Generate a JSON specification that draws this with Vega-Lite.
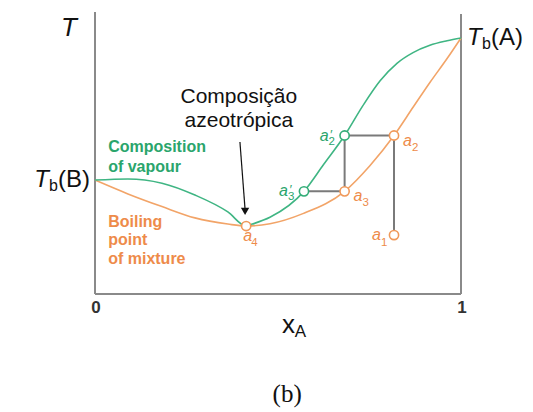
{
  "$schema": "https://vega.github.io/schema/vega-lite/v6.json",
  "width": 366,
  "height": 282,
  "autosize": {"type": "none"},
  "padding": {"left": 95, "top": 12, "right": 72, "bottom": 118},
  "background": "white",
  "config": {"view": {"stroke": null}, "text": {"font": "Liberation Sans"}},
  "datasets": {
    "frame": [
      {"x": 0, "x2": 0, "y": 0, "y2": 1},
      {"x": 1, "x2": 1, "y": 0, "y2": 0.993},
      {"x": 0, "x2": 1, "y": 0, "y2": 0}
    ],
    "ticklabels": [
      {"text": "0", "x": 0, "y": 0},
      {"text": "1", "x": 1, "y": 0}
    ],
    "ties": [
      {"x": 0.682, "x2": 0.817, "y": 0.562, "y2": 0.562},
      {"x": 0.682, "x2": 0.682, "y": 0.364, "y2": 0.562},
      {"x": 0.571, "x2": 0.682, "y": 0.364, "y2": 0.364},
      {"x": 0.817, "x2": 0.817, "y": 0.209, "y2": 0.562}
    ],
    "curves": [
      {"series": "vapour", "x": 0, "y": 0.404},
      {"series": "vapour", "x": 0.09, "y": 0.408},
      {"series": "vapour", "x": 0.183, "y": 0.393},
      {"series": "vapour", "x": 0.273, "y": 0.351},
      {"series": "vapour", "x": 0.363, "y": 0.291},
      {"series": "vapour", "x": 0.413, "y": 0.241},
      {"series": "vapour", "x": 0.43, "y": 0.248},
      {"series": "vapour", "x": 0.478, "y": 0.272},
      {"series": "vapour", "x": 0.571, "y": 0.364},
      {"series": "vapour", "x": 0.625, "y": 0.46},
      {"series": "vapour", "x": 0.682, "y": 0.562},
      {"series": "vapour", "x": 0.732, "y": 0.668},
      {"series": "vapour", "x": 0.779, "y": 0.756},
      {"series": "vapour", "x": 0.825, "y": 0.818},
      {"series": "vapour", "x": 0.869, "y": 0.856},
      {"series": "vapour", "x": 0.915, "y": 0.882},
      {"series": "vapour", "x": 0.962, "y": 0.898},
      {"series": "vapour", "x": 1, "y": 0.908},
      {"series": "liquid", "x": 0, "y": 0.404},
      {"series": "liquid", "x": 0.09, "y": 0.355},
      {"series": "liquid", "x": 0.183, "y": 0.31},
      {"series": "liquid", "x": 0.273, "y": 0.27},
      {"series": "liquid", "x": 0.363, "y": 0.248},
      {"series": "liquid", "x": 0.413, "y": 0.241},
      {"series": "liquid", "x": 0.478, "y": 0.249},
      {"series": "liquid", "x": 0.568, "y": 0.285},
      {"series": "liquid", "x": 0.682, "y": 0.364},
      {"series": "liquid", "x": 0.751, "y": 0.455},
      {"series": "liquid", "x": 0.817, "y": 0.562},
      {"series": "liquid", "x": 0.869, "y": 0.662},
      {"series": "liquid", "x": 0.915, "y": 0.75},
      {"series": "liquid", "x": 0.962, "y": 0.835},
      {"series": "liquid", "x": 1, "y": 0.908}
    ],
    "points": [
      {"phase": "vapour", "name": "a2'", "x": 0.682, "y": 0.562},
      {"phase": "vapour", "name": "a3'", "x": 0.571, "y": 0.364},
      {"phase": "liquid", "name": "a4", "x": 0.413, "y": 0.241},
      {"phase": "liquid", "name": "a3", "x": 0.682, "y": 0.364},
      {"phase": "liquid", "name": "a2", "x": 0.817, "y": 0.562},
      {"phase": "liquid", "name": "a1", "x": 0.817, "y": 0.209}
    ],
    "labels": [
      {"group": "greenRight", "part": "main", "text": "a", "x": 0.682, "y": 0.562},
      {"group": "greenRight", "part": "prime", "text": "′", "x": 0.682, "y": 0.562},
      {"group": "greenRight", "part": "sub", "text": "2", "x": 0.682, "y": 0.562},
      {"group": "greenRight", "part": "main", "text": "a", "x": 0.571, "y": 0.364},
      {"group": "greenRight", "part": "prime", "text": "′", "x": 0.571, "y": 0.364},
      {"group": "greenRight", "part": "sub", "text": "3", "x": 0.571, "y": 0.364},
      {"group": "orangeLeft", "part": "main", "text": "a", "x": 0.817, "y": 0.562},
      {"group": "orangeLeft", "part": "sub", "text": "2", "x": 0.817, "y": 0.562},
      {"group": "orangeLeft", "part": "main", "text": "a", "x": 0.682, "y": 0.364},
      {"group": "orangeLeft", "part": "sub", "text": "3", "x": 0.682, "y": 0.364},
      {"group": "orangeRight", "part": "main", "text": "a", "x": 0.817, "y": 0.209},
      {"group": "orangeRight", "part": "sub", "text": "1", "x": 0.817, "y": 0.209},
      {"group": "orangeCenter", "part": "main", "text": "a", "x": 0.413, "y": 0.241},
      {"group": "orangeCenter", "part": "sub", "text": "4", "x": 0.413, "y": 0.241},
      {"group": "greenNote", "part": "note", "text": "Composition", "x": 0.036, "y": 0.521},
      {"group": "greenNote", "part": "note", "text": "of vapour", "x": 0.036, "y": 0.45},
      {"group": "orangeNote", "part": "note", "text": "Boiling", "x": 0.036, "y": 0.255},
      {"group": "orangeNote", "part": "note", "text": "point", "x": 0.036, "y": 0.191},
      {"group": "orangeNote", "part": "note", "text": "of mixture", "x": 0.036, "y": 0.124},
      {"group": "blackNote", "part": "note", "text": "Composição", "x": 0.393, "y": 0.699},
      {"group": "blackNote", "part": "note", "text": "azeotrópica", "x": 0.393, "y": 0.612}
    ],
    "arrow": [
      {"x": 0.396, "x2": 0.41, "y": 0.539, "y2": 0.3}
    ],
    "arrowhead": [
      {"x": 0.41, "y": 0.293}
    ]
  },
  "encoding": {
    "x": {
      "field": "x",
      "type": "quantitative",
      "scale": {"domain": [0, 1], "nice": false, "zero": false},
      "axis": null
    },
    "y": {
      "field": "y",
      "type": "quantitative",
      "scale": {"domain": [0, 1], "nice": false, "zero": false},
      "axis": null
    }
  },
  "layer": [
    {
      "data": {"name": "frame"},
      "mark": {"type": "rule", "color": "#8a8a8a", "strokeWidth": 2},
      "encoding": {"x2": {"field": "x2"}, "y2": {"field": "y2"}}
    },
    {
      "data": {"name": "ticklabels"},
      "mark": {"type": "text", "align": "center", "baseline": "middle", "dx": 1, "dy": 14, "fontSize": 17, "fontWeight": "bold", "color": "#333333"},
      "encoding": {"text": {"field": "text"}}
    },
    {
      "data": {"name": "ties"},
      "mark": {"type": "rule", "color": "#7a7a7a", "strokeWidth": 2},
      "encoding": {"x2": {"field": "x2"}, "y2": {"field": "y2"}}
    },
    {
      "data": {"name": "curves"},
      "transform": [{"filter": "datum.series === 'liquid'"}],
      "mark": {"type": "line", "color": "#f2a468", "strokeWidth": 1.6, "interpolate": "monotone"},
      "encoding": {}
    },
    {
      "data": {"name": "curves"},
      "transform": [{"filter": "datum.series === 'vapour'"}],
      "mark": {"type": "line", "color": "#3fb583", "strokeWidth": 1.6, "interpolate": "monotone"},
      "encoding": {}
    },
    {
      "data": {"name": "arrow"},
      "mark": {"type": "rule", "color": "#111111", "strokeWidth": 1.2},
      "encoding": {"x2": {"field": "x2"}, "y2": {"field": "y2"}}
    },
    {
      "data": {"name": "arrowhead"},
      "mark": {"type": "point", "shape": "triangle-down", "filled": true, "color": "#111111", "size": 70, "opacity": 1},
      "encoding": {}
    },
    {
      "data": {"name": "points"},
      "transform": [{"filter": "datum.phase === 'liquid'"}],
      "mark": {"type": "point", "shape": "circle", "filled": false, "fill": "white", "fillOpacity": 1, "stroke": "#f0995a", "strokeWidth": 1.6, "size": 85, "opacity": 1},
      "encoding": {}
    },
    {
      "data": {"name": "points"},
      "transform": [{"filter": "datum.phase === 'vapour'"}],
      "mark": {"type": "point", "shape": "circle", "filled": false, "fill": "white", "fillOpacity": 1, "stroke": "#33ad78", "strokeWidth": 1.6, "size": 85, "opacity": 1},
      "encoding": {}
    },
    {
      "data": {"name": "labels"},
      "transform": [{"filter": "datum.group === 'greenRight' && datum.part === 'main'"}],
      "mark": {"type": "text", "align": "right", "baseline": "alphabetic", "dx": -16, "dy": 5, "fontSize": 16, "fontStyle": "italic", "color": "#2aa56c"},
      "encoding": {"text": {"field": "text"}}
    },
    {
      "data": {"name": "labels"},
      "transform": [{"filter": "datum.group === 'greenRight' && datum.part === 'prime'"}],
      "mark": {"type": "text", "align": "left", "baseline": "alphabetic", "dx": -15, "dy": 3, "fontSize": 13, "fontStyle": "italic", "color": "#2aa56c"},
      "encoding": {"text": {"field": "text"}}
    },
    {
      "data": {"name": "labels"},
      "transform": [{"filter": "datum.group === 'greenRight' && datum.part === 'sub'"}],
      "mark": {"type": "text", "align": "left", "baseline": "alphabetic", "dx": -16, "dy": 9, "fontSize": 11.5, "color": "#2aa56c"},
      "encoding": {"text": {"field": "text"}}
    },
    {
      "data": {"name": "labels"},
      "transform": [{"filter": "datum.group === 'orangeLeft' && datum.part === 'main'"}],
      "mark": {"type": "text", "align": "left", "baseline": "alphabetic", "dx": 9, "dy": 10, "fontSize": 16, "fontStyle": "italic", "color": "#ee8b4a"},
      "encoding": {"text": {"field": "text"}}
    },
    {
      "data": {"name": "labels"},
      "transform": [{"filter": "datum.group === 'orangeLeft' && datum.part === 'sub'"}],
      "mark": {"type": "text", "align": "left", "baseline": "alphabetic", "dx": 18, "dy": 15, "fontSize": 11.5, "color": "#ee8b4a"},
      "encoding": {"text": {"field": "text"}}
    },
    {
      "data": {"name": "labels"},
      "transform": [{"filter": "datum.group === 'orangeRight' && datum.part === 'main'"}],
      "mark": {"type": "text", "align": "right", "baseline": "alphabetic", "dx": -13, "dy": 5, "fontSize": 16, "fontStyle": "italic", "color": "#ee8b4a"},
      "encoding": {"text": {"field": "text"}}
    },
    {
      "data": {"name": "labels"},
      "transform": [{"filter": "datum.group === 'orangeRight' && datum.part === 'sub'"}],
      "mark": {"type": "text", "align": "left", "baseline": "alphabetic", "dx": -13, "dy": 11, "fontSize": 11.5, "color": "#ee8b4a"},
      "encoding": {"text": {"field": "text"}}
    },
    {
      "data": {"name": "labels"},
      "transform": [{"filter": "datum.group === 'orangeCenter' && datum.part === 'main'"}],
      "mark": {"type": "text", "align": "left", "baseline": "alphabetic", "dx": -3, "dy": 15, "fontSize": 16, "fontStyle": "italic", "color": "#ee8b4a"},
      "encoding": {"text": {"field": "text"}}
    },
    {
      "data": {"name": "labels"},
      "transform": [{"filter": "datum.group === 'orangeCenter' && datum.part === 'sub'"}],
      "mark": {"type": "text", "align": "left", "baseline": "alphabetic", "dx": 5, "dy": 20, "fontSize": 11.5, "color": "#ee8b4a"},
      "encoding": {"text": {"field": "text"}}
    },
    {
      "data": {"name": "labels"},
      "transform": [{"filter": "datum.group === 'greenNote'"}],
      "mark": {"type": "text", "align": "left", "baseline": "middle", "fontSize": 16, "fontWeight": "bold", "color": "#2aa56c"},
      "encoding": {"text": {"field": "text"}}
    },
    {
      "data": {"name": "labels"},
      "transform": [{"filter": "datum.group === 'orangeNote'"}],
      "mark": {"type": "text", "align": "left", "baseline": "middle", "fontSize": 16, "fontWeight": "bold", "color": "#ee8b4a"},
      "encoding": {"text": {"field": "text"}}
    },
    {
      "data": {"name": "labels"},
      "transform": [{"filter": "datum.group === 'blackNote'"}],
      "mark": {"type": "text", "align": "center", "baseline": "middle", "fontSize": 21, "color": "#111111"},
      "encoding": {"text": {"field": "text"}}
    },
    {
      "data": {"values": [{"text": "T", "x": 0, "y": 0.943}]},
      "mark": {"type": "text", "align": "right", "baseline": "middle", "dx": -18, "fontSize": 26, "fontStyle": "italic", "color": "#111111"},
      "encoding": {"text": {"field": "text"}}
    },
    {
      "data": {"values": [{"text": "T", "x": 0, "y": 0.404}]},
      "mark": {"type": "text", "align": "right", "baseline": "middle", "dx": -46, "fontSize": 24, "fontStyle": "italic", "color": "#111111"},
      "encoding": {"text": {"field": "text"}}
    },
    {
      "data": {"values": [{"text": "b", "x": 0, "y": 0.404}]},
      "mark": {"type": "text", "align": "right", "baseline": "middle", "dx": -37, "dy": 6, "fontSize": 16, "color": "#111111"},
      "encoding": {"text": {"field": "text"}}
    },
    {
      "data": {"values": [{"text": "(B)", "x": 0, "y": 0.404}]},
      "mark": {"type": "text", "align": "right", "baseline": "middle", "dx": -5, "fontSize": 24, "color": "#111111"},
      "encoding": {"text": {"field": "text"}}
    },
    {
      "data": {"values": [{"text": "T", "x": 1, "y": 0.908}]},
      "mark": {"type": "text", "align": "left", "baseline": "middle", "dx": 6, "fontSize": 24, "fontStyle": "italic", "color": "#111111"},
      "encoding": {"text": {"field": "text"}}
    },
    {
      "data": {"values": [{"text": "b", "x": 1, "y": 0.908}]},
      "mark": {"type": "text", "align": "left", "baseline": "middle", "dx": 21, "dy": 6, "fontSize": 16, "color": "#111111"},
      "encoding": {"text": {"field": "text"}}
    },
    {
      "data": {"values": [{"text": "(A)", "x": 1, "y": 0.908}]},
      "mark": {"type": "text", "align": "left", "baseline": "middle", "dx": 30, "fontSize": 24, "color": "#111111"},
      "encoding": {"text": {"field": "text"}}
    },
    {
      "data": {"values": [{"text": "x", "x": 0.529, "y": -0.138}]},
      "mark": {"type": "text", "align": "center", "baseline": "alphabetic", "fontSize": 26, "color": "#111111"},
      "encoding": {"text": {"field": "text"}}
    },
    {
      "data": {"values": [{"text": "A", "x": 0.546, "y": -0.152}]},
      "mark": {"type": "text", "align": "left", "baseline": "alphabetic", "fontSize": 17, "color": "#111111"},
      "encoding": {"text": {"field": "text"}}
    },
    {
      "data": {"values": [{"text": "(b)", "x": 0.525, "y": -0.383}]},
      "mark": {"type": "text", "align": "center", "baseline": "alphabetic", "font": "Liberation Serif", "fontSize": 25, "color": "#111111"},
      "encoding": {"text": {"field": "text"}}
    }
  ]
}
